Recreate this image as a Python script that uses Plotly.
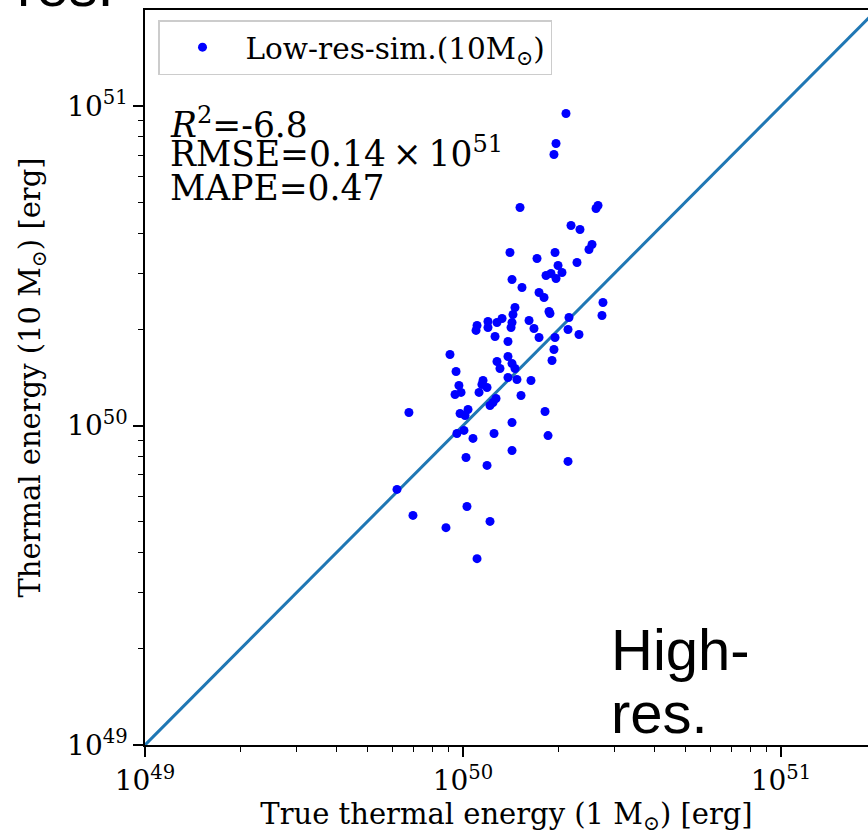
import plotly.graph_objects as go

# values in units of 1e50 erg
SCALE = 1e50
true_energy = [2.108, 1.961, 1.932, 1.511, 2.658, 2.620, 2.186, 2.333, 1.405, 1.709,
               1.947, 2.545, 2.490, 2.283, 1.990, 2.048, 1.824, 1.891, 1.961, 1.426,
               1.533, 1.734, 1.798, 2.755, 2.736, 1.457, 1.436, 1.864, 1.877, 2.154,
               2.139, 2.316, 1.426, 1.416, 1.327, 1.279, 1.198, 1.198, 1.107, 1.099,
               1.613, 1.672, 1.261, 1.385, 1.734, 1.947, 1.932, 1.905, 0.910, 0.951,
               1.279, 1.385, 1.426, 1.457, 1.307, 1.385, 1.478, 1.636, 0.971, 0.986,
               0.944, 1.123, 1.156, 1.147, 1.190, 1.270, 1.243, 1.216, 1.522, 0.979,
               1.037, 1.015, 0.676, 1.007, 0.957, 1.075, 1.252, 1.426, 1.811, 1.851,
               1.022, 1.190, 1.426, 2.139, 0.620, 0.696, 0.884, 1.029, 1.216, 1.107]
pred_energy = [9.474, 7.631, 7.052, 4.813, 4.882, 4.778, 4.227, 4.107, 3.479, 3.332,
               3.479, 3.686, 3.555, 3.237, 3.168, 3.012, 2.948, 2.990, 2.885, 2.864,
               2.703, 2.608, 2.515, 2.427, 2.210, 2.341, 2.226, 2.274, 2.242, 2.178,
               1.998, 1.927, 2.101, 2.026, 2.162, 2.101, 2.116, 2.026, 2.056, 1.984,
               2.132, 2.012, 1.899, 1.832, 1.886, 1.886, 1.729, 1.598, 1.668, 1.476,
               1.586, 1.644, 1.563, 1.508, 1.508, 1.413, 1.393, 1.383, 1.334, 1.269,
               1.250, 1.269, 1.383, 1.344, 1.315, 1.215, 1.180, 1.155, 1.241, 1.090,
               1.122, 1.075, 1.098, 0.965, 0.944, 0.911, 0.944, 1.022, 1.106, 0.930,
               0.794, 0.750, 0.835, 0.772, 0.631, 0.523, 0.479, 0.558, 0.501, 0.383]

line_ends = [1e49, 2e51]
major_ticks = [1e49, 1e50, 1e51]
major_text = ["10<sup>49</sup>", "10<sup>50</sup>", "10<sup>51</sup>"]
minor_ticks = [float(m) * 10.0 ** e for e in (49, 50, 51) for m in range(2, 10)]

legend_label = "Low-res-sim.(10M<sub>\u2299</sub>)"
stats_lines = ["<i>R</i><sup>2</sup>=-6.8",
               "RMSE=0.14\u2009\u00d7\u200910<sup>51</sup>",
               "MAPE=0.47"]
stats_baselines = [138, 167, 201]

SERIF = "DejaVu Serif"
SANS = "Liberation Sans"

fig = go.Figure()
fig.add_trace(go.Scatter(x=line_ends, y=line_ends, mode="lines",
                         line=dict(color="#1f77b4", width=3), showlegend=False,
                         hoverinfo="skip"))
fig.add_trace(go.Scatter(x=[v * SCALE for v in true_energy],
                         y=[v * SCALE for v in pred_energy],
                         mode="markers", name=legend_label,
                         marker=dict(color="#0000ff", size=9, line=dict(width=0))))

axis_common = dict(type="log", showgrid=False, zeroline=False,
                   showline=True, linecolor="black", linewidth=1.5,
                   ticks="outside", ticklen=10, tickwidth=1.5, tickcolor="black",
                   tickvals=major_ticks, ticktext=major_text,
                   tickfont=dict(family=SERIF, size=28, color="black"),
                   minor=dict(tickvals=minor_ticks, ticks="outside", ticklen=5,
                              tickwidth=1.2, tickcolor="black", showgrid=False))

PW, PH, L, T = 723, 735, 145, 10


def px(x):
    return (x - L) / PW


def py(y):
    return (T + PH - y) / PH


fig.update_layout(
    width=868, height=836,
    margin=dict(l=L, r=0, t=T, b=91),
    paper_bgcolor="white", plot_bgcolor="white",
    xaxis=dict(axis_common, range=[49, 49 + 723 / 318], mirror=True,
               title=dict(text="True thermal energy (1 M<sub>\u2299</sub>) [erg]",
                          font=dict(family=SERIF, size=29, color="black"), standoff=6)),
    yaxis=dict(axis_common, range=[49, 49 + 735 / 319.5], mirror=False,
               title=dict(text="Thermal energy (10 M<sub>\u2299</sub>) [erg]",
                          font=dict(family=SERIF, size=29, color="black"), standoff=18)),
    legend=dict(x=px(158), y=py(20), xanchor="left", yanchor="top",
                bgcolor="rgba(255,255,255,0.8)", bordercolor="#cccccc", borderwidth=1.5,
                font=dict(family=SERIF, size=29.5, color="black"), itemwidth=76),
    showlegend=True,
)

for line, base in zip(stats_lines, stats_baselines):
    fig.add_annotation(text=line, xref="paper", yref="paper", x=px(168),
                       y=py(base + 9), xanchor="left", yanchor="bottom", align="left",
                       showarrow=False, font=dict(family=SERIF, size=34.5, color="black"))

fig.add_annotation(text="High-", xref="paper", yref="paper", x=px(609),
                   y=py(684), xanchor="left", yanchor="bottom", align="left",
                   showarrow=False, font=dict(family=SANS, size=58, color="black"))
fig.add_annotation(text="res.", xref="paper", yref="paper", x=px(609),
                   y=py(747), xanchor="left", yanchor="bottom", align="left",
                   showarrow=False, font=dict(family=SANS, size=58, color="black"))
fig.add_annotation(text="res.", xref="paper", yref="paper", x=px(15),
                   y=py(20), xanchor="left", yanchor="bottom", align="left",
                   showarrow=False, font=dict(family=SANS, size=58, color="black"))

fig.write_html("out.html")
